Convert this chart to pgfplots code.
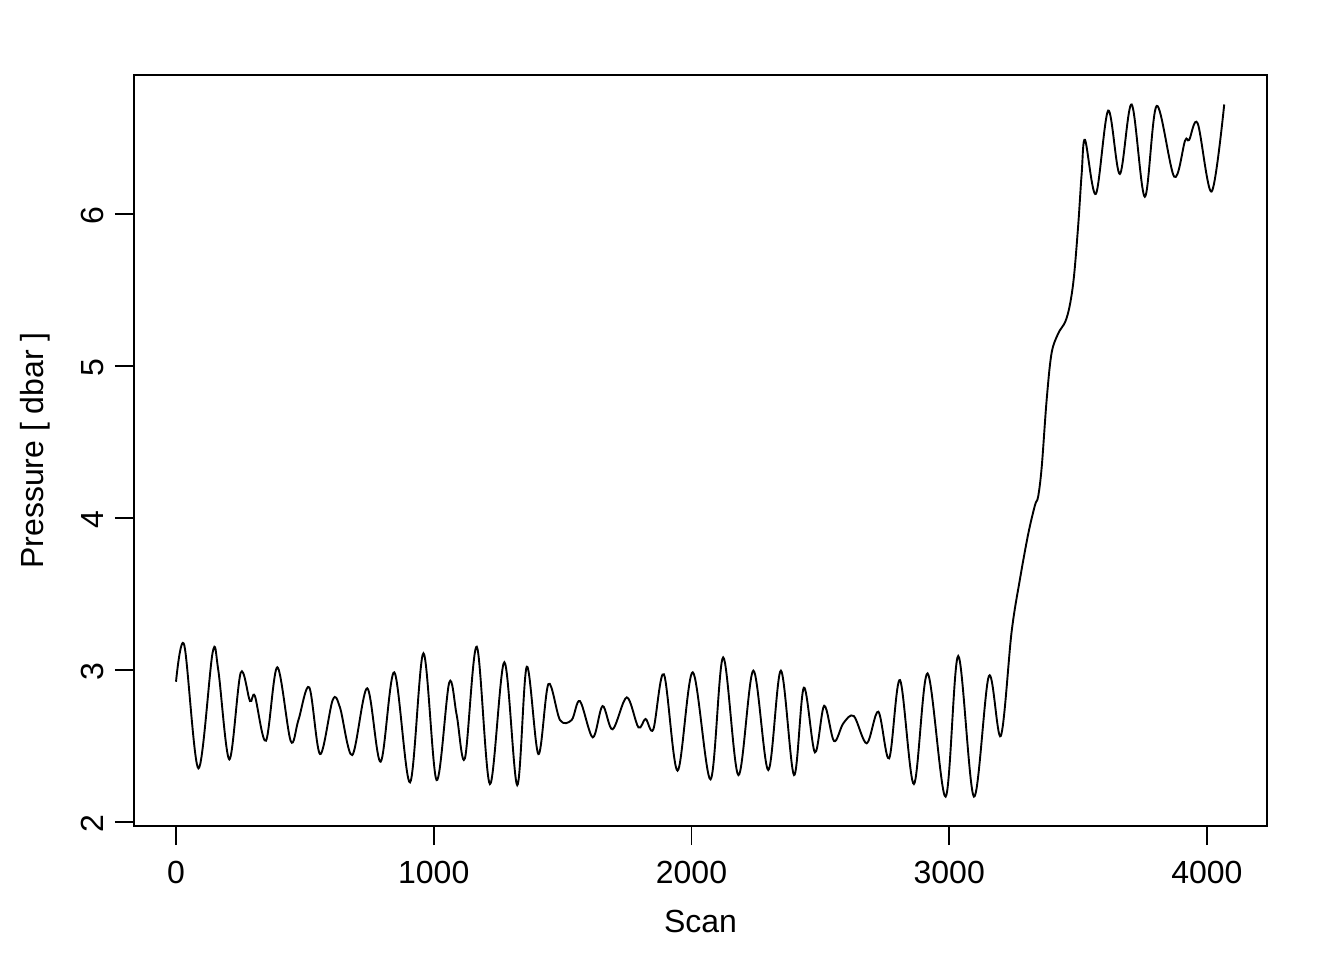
\documentclass[border=0pt]{standalone}
\usepackage{fontspec}
\setmainfont{Liberation Sans}
\usepackage{pgfplots}
\pgfplotsset{compat=1.18}
\begin{document}
\fontsize{16pt}{19pt}\selectfont
\begin{tikzpicture}
\begin{axis}[
  scale only axis,
  width=566.5pt, height=375.5pt,
  xmin=-163, xmax=4233, ymin=1.974, ymax=6.914,
  xtick={0,1000,2000,3000,4000},
  ytick={2,3,4,5,6},
  scaled x ticks=false,
  /pgf/number format/assume math mode=true,
  /pgf/number format/set thousands separator={},
  tick align=outside, major tick length=9.5pt,
  tick style={line width=0.9pt, black},
  xtick pos=bottom, ytick pos=left,
  axis line style={line width=0.9pt},
  xticklabel style={font=\fontsize{16pt}{19pt}\selectfont, yshift=-2.5pt},
  yticklabel style={font=\fontsize{16pt}{19pt}\selectfont, rotate=90, anchor=south, xshift=-1pt},
  xlabel={Scan}, ylabel={Pressure [ dbar ]},
  label style={font=\fontsize{16pt}{19pt}\selectfont},
  xlabel style={yshift=-2.5pt},
  ylabel style={yshift=4.5pt},
]
\addplot[black, line width=0.95pt, smooth, tension=0.55] coordinates {
(0,2.923) (32,3.164) (87,2.353) (142,3.114) (164,3.00) (207,2.412) (251,2.982)
(287,2.796) (306,2.829) (349,2.535) (393,3.018) (445,2.533) (475,2.671) (517,2.886)
(559,2.447) (608,2.803) (636,2.755) (684,2.441) (742,2.88) (794,2.397) (847,2.985)
(908,2.261) (960,3.11) (1011,2.276) (1060,2.917) (1089,2.704) (1121,2.419) (1167,3.153)
(1218,2.25) (1274,3.051) (1324,2.243) (1361,3.022) (1406,2.447) (1445,2.908) (1490,2.671)
(1535,2.671) (1567,2.796) (1617,2.557) (1655,2.763) (1694,2.61) (1749,2.82) (1794,2.623)
(1822,2.678) (1852,2.61) (1893,2.972) (1946,2.338) (2005,2.985) (2074,2.281) (2123,3.083)
(2182,2.309) (2240,2.996) (2298,2.342) (2347,2.996) (2398,2.309) (2436,2.884) (2479,2.458)
(2515,2.765) (2553,2.533) (2589,2.649) (2630,2.697) (2680,2.518) (2725,2.726) (2767,2.419)
(2809,2.934) (2863,2.25) (2916,2.978) (2986,2.167) (3035,3.092) (3096,2.167) (3154,2.961)
(3200,2.566) (3242,3.25) (3275,3.603) (3307,3.899) (3333,4.086) (3345,4.14) (3359,4.337)
(3378,4.776) (3397,5.083) (3423,5.214) (3450,5.29) (3468,5.40) (3484,5.588) (3501,5.938)
(3514,6.267) (3527,6.487) (3569,6.132) (3617,6.68) (3662,6.263) (3708,6.72) (3759,6.113)
(3805,6.711) (3873,6.245) (3915,6.482) (3931,6.487) (3964,6.596) (4018,6.147) (4067,6.72)
};
\end{axis}
\path (current axis.south west) ++(-67pt,-67pt) rectangle ++(672pt,480pt);
\end{tikzpicture}
\end{document}
